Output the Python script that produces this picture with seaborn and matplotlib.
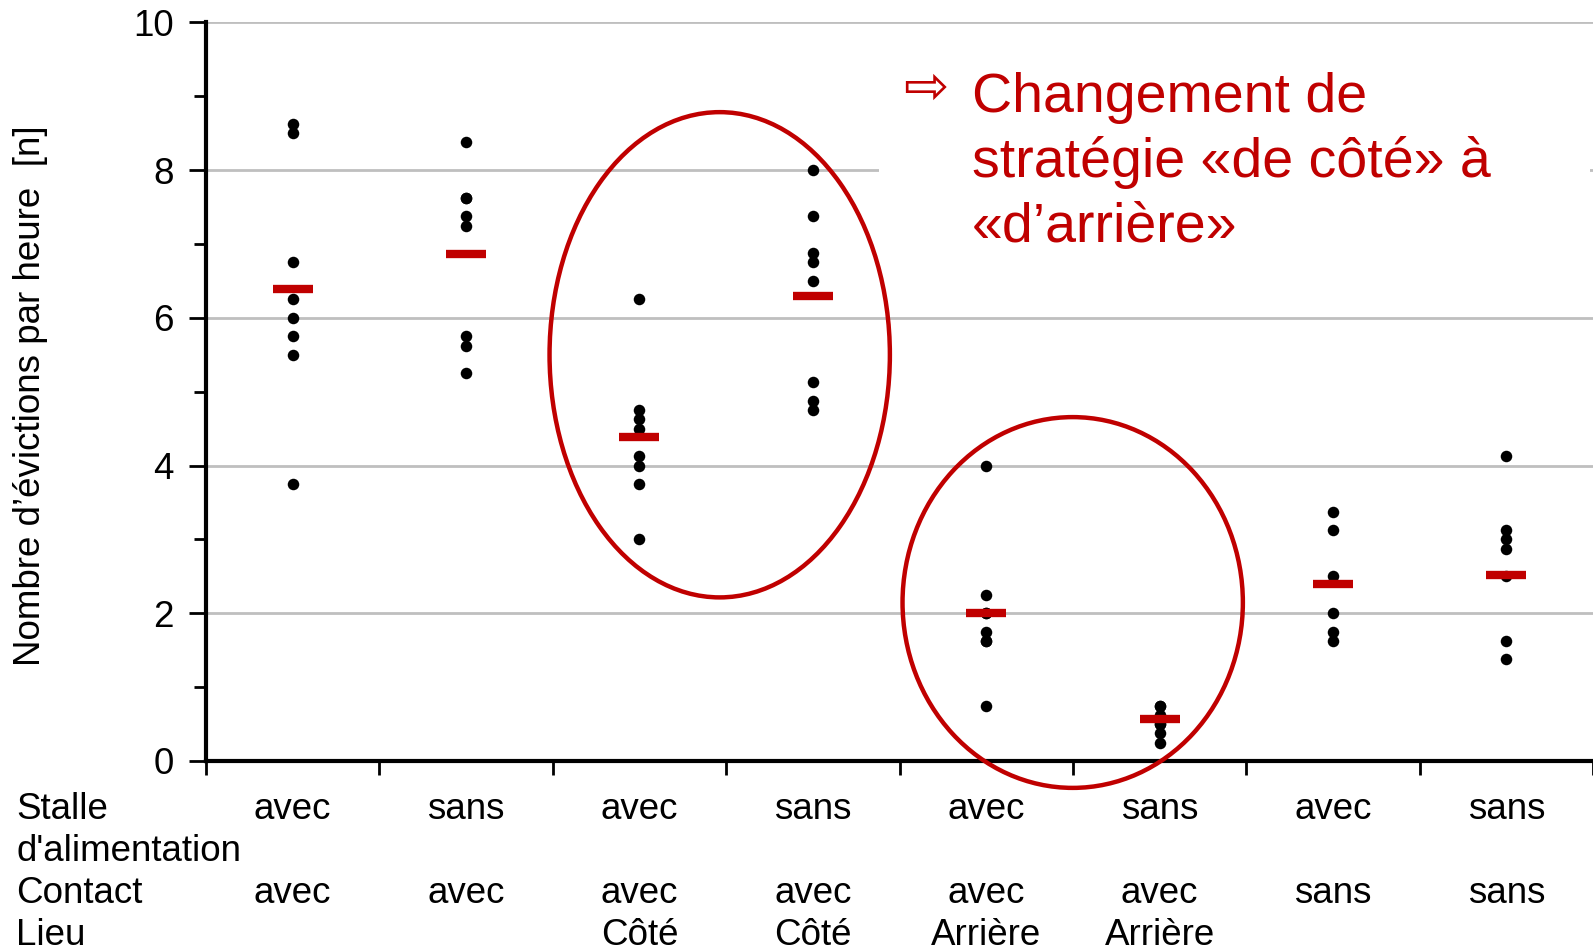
import numpy as np
import pandas as pd
import matplotlib
matplotlib.use("Agg")
import matplotlib.pyplot as plt
import seaborn as sns
from matplotlib.patches import Ellipse, Rectangle
from matplotlib.ticker import MultipleLocator

# catégories (8 combinaisons)
groupes = ["G1", "G2", "G3", "G4", "G5", "G6", "G7", "G8"]
stalle = ["avec", "sans", "avec", "sans", "avec", "sans", "avec", "sans"]
contact = ["avec", "avec", "avec", "avec", "avec", "avec", "sans", "sans"]
lieu = ["", "", "Côté", "Côté", "Arrière", "Arrière", "", ""]

# évictions par heure
avec_avec = [8.625, 8.5, 6.75, 6.25, 6.0, 5.75, 5.5, 3.75]
sans_avec = [8.375, 7.625, 7.625, 7.375, 7.25, 5.75, 5.625, 5.25]
avec_avec_cote = [6.25, 4.75, 4.625, 4.5, 4.125, 4.0, 3.75, 3.0]
sans_avec_cote = [8.0, 7.375, 6.875, 6.75, 6.5, 5.125, 4.875, 4.75]
avec_avec_arriere = [4.0, 2.25, 2.0, 2.0, 1.75, 1.625, 1.625, 0.75]
sans_avec_arriere = [0.75, 0.75, 0.625, 0.5, 0.5, 0.375, 0.25]
avec_sans = [3.375, 3.125, 2.5, 2.0, 1.75, 1.625]
sans_sans = [4.125, 3.125, 3.0, 2.875, 2.5, 1.625, 1.375]

# moyennes (traits rouges)
moyennes = [6.39, 6.86, 4.38, 6.29, 2.01, 0.57, 2.40, 2.52]

series = [avec_avec, sans_avec, avec_avec_cote, sans_avec_cote,
          avec_avec_arriere, sans_avec_arriere, avec_sans, sans_sans]
df = pd.DataFrame({
    "groupe": np.repeat(groupes, [len(s) for s in series]),
    "valeur": np.concatenate(series),
})

ROUGE = "#C00000"
W, H = 1593, 951

sns.set_theme(style="white")
plt.rcParams["font.family"] = ["Liberation Sans", "DejaVu Sans"]
plt.rcParams["text.color"] = "black"
plt.rcParams["xtick.color"] = "black"
plt.rcParams["ytick.color"] = "black"
plt.rcParams["axes.labelcolor"] = "black"

fig = plt.figure(figsize=(W / 100, H / 100), dpi=100)
ax = fig.add_axes([206 / W, 1 - 761 / H, 1 - 206 / W, (761 - 22.4) / H])

sns.stripplot(data=df, x="groupe", y="valeur", order=groupes, jitter=False,
              color="black", size=8.3, linewidth=0, ax=ax, zorder=3)

xs = np.arange(len(moyennes))
ax.hlines(moyennes, xs - 0.115, xs + 0.115, colors=ROUGE, linewidth=6, zorder=4)

# axes
ax.set_xlim(-0.5, 7.485)
ax.set_ylim(0, 10)
ax.set_xticks(np.arange(-0.5, 8, 1))
ax.set_xticklabels([])
ax.set_xlabel("")
ax.set_ylabel("")
ax.yaxis.set_major_locator(MultipleLocator(2))
ax.yaxis.set_minor_locator(MultipleLocator(1))
ax.tick_params(axis="x", length=10, width=2, direction="out", color="black", bottom=True)
ax.tick_params(axis="y", which="major", length=12, width=2, direction="out",
               color="black", labelcolor="black", labelsize=26.5, pad=11, left=True)
ax.tick_params(axis="y", which="minor", length=9, width=2, direction="out",
               color="black", left=True)
ax.yaxis.grid(True, color="#BFBFBF", linewidth=2)
ax.xaxis.grid(False)
ax.set_axisbelow(True)
for s in ["top", "right"]:
    ax.spines[s].set_visible(False)
for s in ["left", "bottom"]:
    ax.spines[s].set_linewidth(3)
    ax.spines[s].set_color("black")

# fond blanc derrière le commentaire
ax.add_patch(Rectangle((3.38, 6.9), 4.1, 2.7, facecolor="white", edgecolor="none", zorder=1))

# ellipses
ax.add_patch(Ellipse((2.463, 5.50), 1.963, 6.57, fill=False, edgecolor=ROUGE,
                     linewidth=3.2, zorder=5, clip_on=False))
ax.add_patch(Ellipse((4.499, 2.146), 1.963, 5.02, fill=False, edgecolor=ROUGE,
                     linewidth=3.2, zorder=5, clip_on=False))

# titre de l'axe y
fig.text(30.5 / W, 1 - 396 / H, "Nombre d’évictions par heure  [n]", rotation=90,
         ha="center", va="center", fontsize=26.5)

# tableau des conditions sous l'axe
fs = 26.5
fig.text(16 / W, 1 - 819 / H, "Stalle", fontsize=fs, va="baseline", ha="left")
fig.text(16 / W, 1 - 861 / H, "d'alimentation", fontsize=fs, va="baseline", ha="left")
fig.text(16 / W, 1 - 903 / H, "Contact", fontsize=fs, va="baseline", ha="left")
fig.text(16 / W, 1 - 945 / H, "Lieu", fontsize=fs, va="baseline", ha="left")
for i in range(len(groupes)):
    xf = fig.transFigure.inverted().transform(ax.transData.transform((i, 0)))[0]
    fig.text(xf, 1 - 819 / H, stalle[i], fontsize=fs, va="baseline", ha="center")
    fig.text(xf, 1 - 903 / H, contact[i], fontsize=fs, va="baseline", ha="center")
    if lieu[i]:
        fig.text(xf, 1 - 945 / H, lieu[i], fontsize=fs, va="baseline", ha="center")

# commentaire
fig.text(903 / W, 1 - 89 / H, "⇨", fontsize=39, color=ROUGE, ha="left", va="center",
         family=["DejaVu Sans"])
lignes = ["Changement de", "stratégie «de côté» à", "«d’arrière»"]
for k, txt in enumerate(lignes):
    fig.text(972 / W, 1 - (111.8 + 65 * k) / H, txt, fontsize=40, color=ROUGE,
             ha="left", va="baseline")

fig.savefig("out.png", dpi=100)
